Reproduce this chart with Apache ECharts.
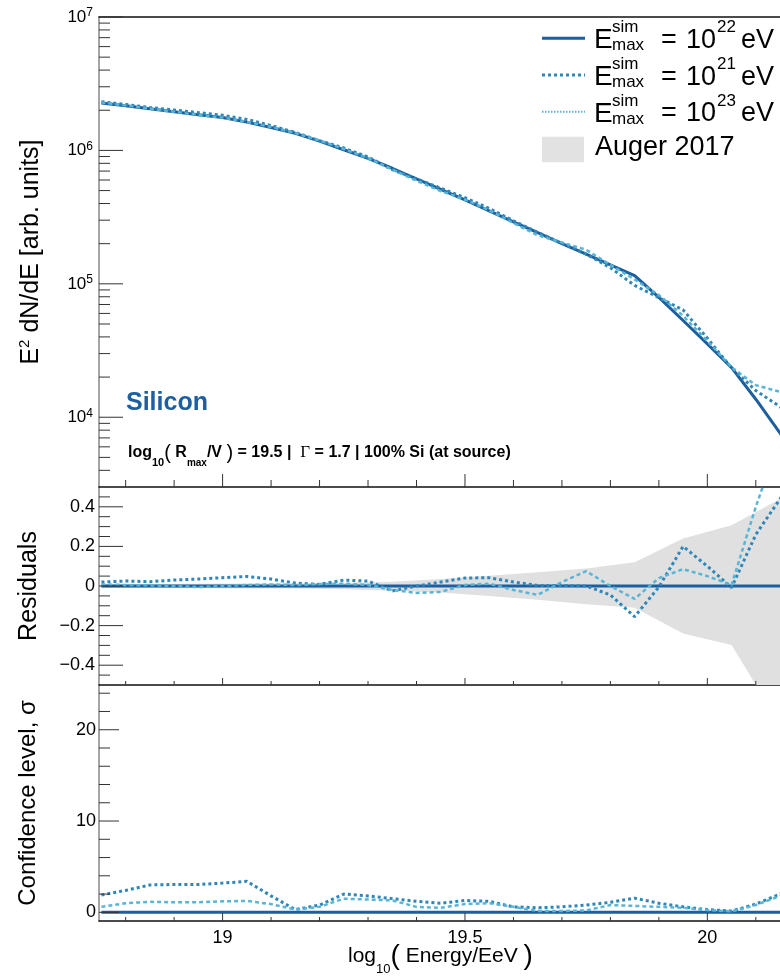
<!DOCTYPE html>
<html><head><meta charset="utf-8">
<script src="https://cdn.jsdelivr.net/npm/echarts@6/dist/echarts.min.js"></script>
<style>html,body{margin:0;padding:0;overflow:hidden;background:#fff;width:780px;height:978px}#c{width:900px;height:978px}</style>
</head><body><div id="c"></div>
<script>
// ---------------- data ----------------
const energy = [18.75,18.80,18.85,18.90,18.95,19.00,19.05,19.10,19.15,19.20,19.25,19.30,19.35,19.40,19.45,19.50,19.55,19.60,19.65,19.70,19.75,19.80,19.85,19.90,19.95,20.00,20.05,20.10,20.15,20.20,20.25];
const flux22 = [2.270e6,2.158e6,2.051e6,1.950e6,1.854e6,1.762e6,1.629e6,1.486e6,1.343e6,1.175e6,1.012e6,8.71e5,7.35e5,6.12e5,5.11e5,4.25e5,3.52e5,2.91e5,2.42e5,2.00e5,1.67e5,1.387e5,1.153e5,7.91e4,5.31e4,3.55e4,2.355e4,1.365e4,7.59e3,4.17e3,2.29e3];
const flux21 = [2.315e6,2.212e6,2.096e6,2.009e6,1.919e6,1.836e6,1.707e6,1.538e6,1.363e6,1.184e6,1.042e6,8.93e5,7.17e5,6.12e5,5.21e5,4.42e5,3.67e5,2.97e5,2.43e5,2.01e5,1.67e5,1.32e5,9.74e4,7.87e4,6.37e4,3.91e4,2.34e4,1.585e4,1.2e4,8.9e3,6.3e3];
const flux23 = [2.288e6,2.169e6,2.057e6,1.950e6,1.845e6,1.762e6,1.637e6,1.498e6,1.350e6,1.187e6,1.024e6,8.75e5,7.20e5,5.91e5,4.96e5,4.27e5,3.56e5,2.85e5,2.31e5,2.04e5,1.80e5,1.387e5,1.078e5,8.23e4,5.76e4,3.73e4,2.37e4,1.74e4,1.55e4,1.26e4,1.0e4];
const resid22 = [0,0,0,0,0,0,0,0,0,0,0,0,0,0,0,0,0,0,0,0,0,0,0,0,0,0,0,0,0,0,0];
const resid21 = [0.02,0.025,0.022,0.03,0.035,0.042,0.048,0.035,0.015,0.008,0.03,0.025,-0.025,0.0,0.02,0.04,0.042,0.02,0.003,0.003,0.0,-0.045,-0.155,-0.005,0.20,0.10,-0.008,0.26,0.44,0.62,0.8];
const resid23 = [0.008,0.005,0.003,0.0,-0.005,0.0,0.005,0.008,0.005,0.01,0.012,0.005,-0.02,-0.035,-0.03,0.005,0.012,-0.02,-0.045,0.02,0.075,0.0,-0.065,0.04,0.085,0.05,0.005,0.40,0.75,1.0,1.2];
const conf22 = [0,0,0,0,0,0,0,0,0,0,0,0,0,0,0,0,0,0,0,0,0,0,0,0,0,0,0,0,0,0,0];
const conf21 = [1.9,2.4,3.0,3.05,3.05,3.2,3.4,1.8,0.3,0.8,2.0,1.8,1.5,1.2,1.0,1.3,1.2,0.6,0.5,0.6,0.8,1.1,1.55,1.0,0.6,0.3,0.15,0.9,2.0,3.5,5.0];
const conf23 = [0.6,1.0,1.15,1.1,1.1,1.2,1.25,0.9,0.3,0.6,1.5,1.4,1.3,0.6,0.5,0.9,1.0,0.6,0.15,0.15,0.2,0.8,0.7,0.6,0.5,0.25,0.1,0.8,1.8,3.0,4.5];
const bandX    = [18.75,18.85,18.95,19.05,19.15,19.25,19.35,19.45,19.55,19.65,19.75,19.85,19.95,20.05,20.15,20.25];
const bandHigh = [0.010,0.010,0.011,0.012,0.013,0.016,0.022,0.035,0.052,0.070,0.088,0.12,0.24,0.307,0.44,0.60];
const bandLow  = [-0.010,-0.010,-0.011,-0.012,-0.013,-0.016,-0.024,-0.033,-0.05,-0.07,-0.092,-0.11,-0.24,-0.298,-0.70,-1.0];
// tick values / labels
const xMajorTicks = [19, 19.5, 20];
const xMinorTicks = [18.8,18.9,19.1,19.2,19.3,19.4,19.6,19.7,19.8,19.9,20.1,20.2,20.3];
const fluxMajorTicks = [1e4,1e5,1e6,1e7];
const fluxMinorTicks = [4e3,5e3,6e3,7e3,8e3,9e3,2e4,3e4,4e4,5e4,6e4,7e4,8e4,9e4,2e5,3e5,4e5,5e5,6e5,7e5,8e5,9e5,2e6,3e6,4e6,5e6,6e6,7e6,8e6,9e6];
const residMajorTicks = [-0.4,-0.2,0,0.2,0.4];
const residMinorTicks = [-0.45,-0.35,-0.3,-0.25,-0.15,-0.1,-0.05,0.05,0.1,0.15,0.25,0.3,0.35,0.45];
const confMajorTicks = [0,10,20];
const confMinorTicks = [2,4,6,8,12,14,16,18,22,24];

// ---------------- layout / style ----------------
const FONT = 'Liberation Sans, Arial, Helvetica, sans-serif';
const C22 = '#1d5f9e', C21 = '#2f86b8', C23 = '#58b5d6';
const XMIN = 18.745, XMAX = 20.35;
const YR = [[3000, 1e7], [-0.5, 0.5], [-0.95, 24.9]];

const pairs = (xs, ys) => xs.map((x, i) => [x, ys[i]]);

function tickItems(yMin, xMaj, xMin, xMajLen, xMinLen, yMaj, yMinT, yMajLen, yMinLen) {
  const out = [];
  xMaj.forEach(v => out.push([v, yMin, 0, xMajLen]));
  xMin.forEach(v => out.push([v, yMin, 0, xMinLen]));
  yMaj.forEach(v => out.push([XMIN, v, 1, yMajLen]));
  yMinT.forEach(v => out.push([XMIN, v, 1, yMinLen]));
  return out;
}
function tickSeries(idx, items) {
  return {
    type: 'custom', xAxisIndex: idx, yAxisIndex: idx, silent: true, z: 20, clip: false,
    data: items,
    renderItem(params, api) {
      const p = api.coord([api.value(0), api.value(1)]);
      const k = api.value(2), len = api.value(3);
      const shape = k === 0 ? {x1: p[0], y1: p[1], x2: p[0], y2: p[1] - len}
                            : {x1: p[0], y1: p[1], x2: p[0] + len, y2: p[1]};
      return {type: 'line', shape, style: {stroke: '#333', lineWidth: 1}};
    }
  };
}
function lineSeries(idx, xs, ys, color, width, dash, z) {
  return {
    type: 'line', xAxisIndex: idx, yAxisIndex: idx, data: pairs(xs, ys),
    symbol: 'none', showSymbol: false, silent: true, z: z,
    lineStyle: {color: color, width: width, type: dash || 'solid'}
  };
}
function bandSeries(ys) {
  return {type: 'line', xAxisIndex: 1, yAxisIndex: 1, data: pairs(bandX, ys), symbol: 'none', showSymbol: false,
    silent: true, z: 1, lineStyle: {width: 0, opacity: 0}, areaStyle: {color: '#e0e0e0', opacity: 1, origin: 0}};
}

const xAxisBase = (gi) => ({
  type: 'value', gridIndex: gi, min: XMIN, max: XMAX,
  axisLine: {show: true, onZero: false, lineStyle: {color: '#111', width: 1.5}},
  axisTick: {show: false}, splitLine: {show: false}, axisLabel: {show: false}
});
const xAxes = [xAxisBase(0), xAxisBase(1), xAxisBase(2)];
xAxes[2].axisLabel = {show: true, customValues: xMajorTicks, fontFamily: FONT, fontSize: 18, color: '#000', margin: 8,
  formatter: v => String(v)};
xAxes.push(Object.assign(xAxisBase(0), {position: 'top'}));

const yLine = {show: true, onZero: false, lineStyle: {color: '#888', width: 1.5}};
const yAxes = [
  {type: 'log', gridIndex: 0, min: YR[0][0], max: YR[0][1], axisLine: yLine, axisTick: {show: false}, splitLine: {show: false},
   axisLabel: {fontFamily: FONT, color: '#000', margin: 6,
     formatter: v => { const e = Math.log10(v); const r = Math.round(e); return Math.abs(e - r) < 1e-6 ? '{b|10}{s|' + r + '}' : ''; },
     rich: {b: {fontFamily: FONT, fontSize: 17, color: '#000', lineHeight: 20}, s: {fontFamily: FONT, fontSize: 12, color: '#000', verticalAlign: 'top', lineHeight: 10}}},
   name: '{a|E}{s|2}{a| dN/dE [arb. units]}', nameLocation: 'middle', nameRotate: 90, nameGap: 54,
   nameTextStyle: {fontFamily: FONT, fontSize: 25, color: '#000',
     rich: {a: {fontFamily: FONT, fontSize: 25, color: '#000', lineHeight: 28}, s: {fontFamily: FONT, fontSize: 15, color: '#000', verticalAlign: 'top', lineHeight: 12}}}},
  {type: 'value', gridIndex: 1, min: YR[1][0], max: YR[1][1], axisLine: yLine, axisTick: {show: false}, splitLine: {show: false},
   axisLabel: {customValues: residMajorTicks, fontFamily: FONT, fontSize: 18, color: '#000', margin: 4,
     formatter: v => (Math.abs(v) < 1e-9 ? '0' : String(+v.toFixed(2)).replace('-', '\u2212'))},
   name: 'Residuals', nameLocation: 'middle', nameRotate: 90, nameGap: 57,
   nameTextStyle: {fontFamily: FONT, fontSize: 25, color: '#000'}},
  {type: 'value', gridIndex: 2, min: YR[2][0], max: YR[2][1], axisLine: yLine, axisTick: {show: false}, splitLine: {show: false},
   axisLabel: {customValues: confMajorTicks, fontFamily: FONT, fontSize: 18, color: '#000', margin: 3},
   name: 'Confidence level, \u03c3', nameLocation: 'middle', nameRotate: 90, nameGap: 59,
   nameTextStyle: {fontFamily: FONT, fontSize: 24, color: '#000'}}
];

const series = [
  bandSeries(bandHigh), bandSeries(bandLow),
  lineSeries(0, energy, flux22, C22, 3, null, 3),
  lineSeries(0, energy, flux21, C21, 3, [3, 3], 4),
  lineSeries(0, energy, flux23, C23, 2.5, [4, 3], 5),
  lineSeries(1, energy, resid22, C22, 3, null, 3),
  lineSeries(1, energy, resid21, C21, 3, [3, 3], 4),
  lineSeries(1, energy, resid23, C23, 2.5, [4, 3], 5),
  lineSeries(2, energy, conf22, C22, 3, null, 3),
  lineSeries(2, energy, conf21, C21, 3, [3, 3], 4),
  lineSeries(2, energy, conf23, C23, 2.5, [4, 3], 5),
  tickSeries(0, tickItems(YR[0][0], xMajorTicks, xMinorTicks, 13, 7, fluxMajorTicks, fluxMinorTicks, 24, 11)),
  tickSeries(1, tickItems(YR[1][0], xMajorTicks, xMinorTicks, 7, 4, residMajorTicks, residMinorTicks, 24, 11)),
  tickSeries(2, tickItems(YR[2][0], xMajorTicks, xMinorTicks, 8, 4, confMajorTicks, confMinorTicks, 20, 11))
];

// legend (drawn as graphic), texts
const T = (x, y, text, size, extra) => ({type: 'text', x: x, y: y, z: 50, silent: true,
  style: Object.assign({text: text, fontFamily: FONT, fontSize: size, fill: '#000', verticalAlign: 'middle', align: 'left'}, extra || {})});
const legendRows = [[38.3, C22, 3, null, '22'], [75, C21, 3, [3, 3], '21'], [111.7, C23, 2, [1.5, 1.5], '23']];
const graphic = [];
legendRows.forEach(r => {
  const dy = r[0] - 38.3;
  graphic.push({type: 'line', z: 50, silent: true, shape: {x1: 542, y1: r[0], x2: 585, y2: r[0]},
    style: {stroke: r[1], lineWidth: r[2], lineDash: r[3]}});
  graphic.push(T(594, 40.5 + dy, 'E', 28));
  graphic.push(T(612, 27.5 + dy, 'sim', 17));
  graphic.push(T(612, 45.5 + dy, 'max', 17));
  graphic.push(T(661, 40.5 + dy, '=', 27));
  graphic.push(T(686, 40.5 + dy, '10', 27));
  graphic.push(T(717, 27.5 + dy, r[4], 17));
  graphic.push(T(741, 40.5 + dy, 'eV', 27));
});
graphic.push({type: 'rect', z: 50, silent: true, shape: {x: 542, y: 136.7, width: 42, height: 25.6}, style: {fill: '#e2e2e2'}});
graphic.push(T(595, 147.6, 'Auger 2017', 27));
graphic.push(T(126, 403, 'Silicon', 25, {fontWeight: 'bold', fill: '#1d5fa0'}));
graphic.push({type: 'text', x: 128, y: 453, z: 50, silent: true, style: {
  text: '{b|log}{s|10}{p|(}{b| R}{m|max}{b|/V }{p|)}{b| = 19.5 |  }{g|\u0393}{b| = 1.7 | 100% Si (at source)}',
  verticalAlign: 'middle', align: 'left',
  rich: {
    b: {fontFamily: FONT, fontSize: 16, fontWeight: 'bold', fill: '#000', lineHeight: 30},
    s: {fontFamily: FONT, fontSize: 11, fontWeight: 'bold', fill: '#000', lineHeight: 10, verticalAlign: 'bottom'},
    m: {fontFamily: FONT, fontSize: 10, fontWeight: 'bold', fill: '#000', lineHeight: 24, verticalAlign: 'bottom'},
    p: {fontFamily: FONT, fontSize: 20, fill: '#000', lineHeight: 30},
    g: {fontFamily: 'Liberation Serif, DejaVu Serif, serif', fontSize: 17, fill: '#000', lineHeight: 30}
  }}});
graphic.push({type: 'text', x: 348, y: 956, z: 50, silent: true, style: {
  text: '{a|log}{s|10}{p|(}{a| Energy/EeV }{p|)}', verticalAlign: 'middle', align: 'left',
  rich: {
    a: {fontFamily: FONT, fontSize: 21, fill: '#000', lineHeight: 40},
    s: {fontFamily: FONT, fontSize: 13, fill: '#000', lineHeight: 10, verticalAlign: 'bottom'},
    p: {fontFamily: FONT, fontSize: 28, fill: '#000', lineHeight: 40}
  }}});

const chart = echarts.init(document.getElementById('c'), null, {renderer: 'canvas'});
chart.setOption({
  animation: false,
  backgroundColor: '#fff',
  grid: [
    {left: 99, top: 17, width: 778, height: 470, containLabel: false, outerBoundsMode: 'none'},
    {left: 99, top: 487, width: 778, height: 198, containLabel: false, outerBoundsMode: 'none'},
    {left: 99, top: 685, width: 778, height: 236, containLabel: false, outerBoundsMode: 'none'}
  ],
  xAxis: xAxes,
  yAxis: yAxes,
  series: series,
  graphic: graphic
});
</script></body></html>
